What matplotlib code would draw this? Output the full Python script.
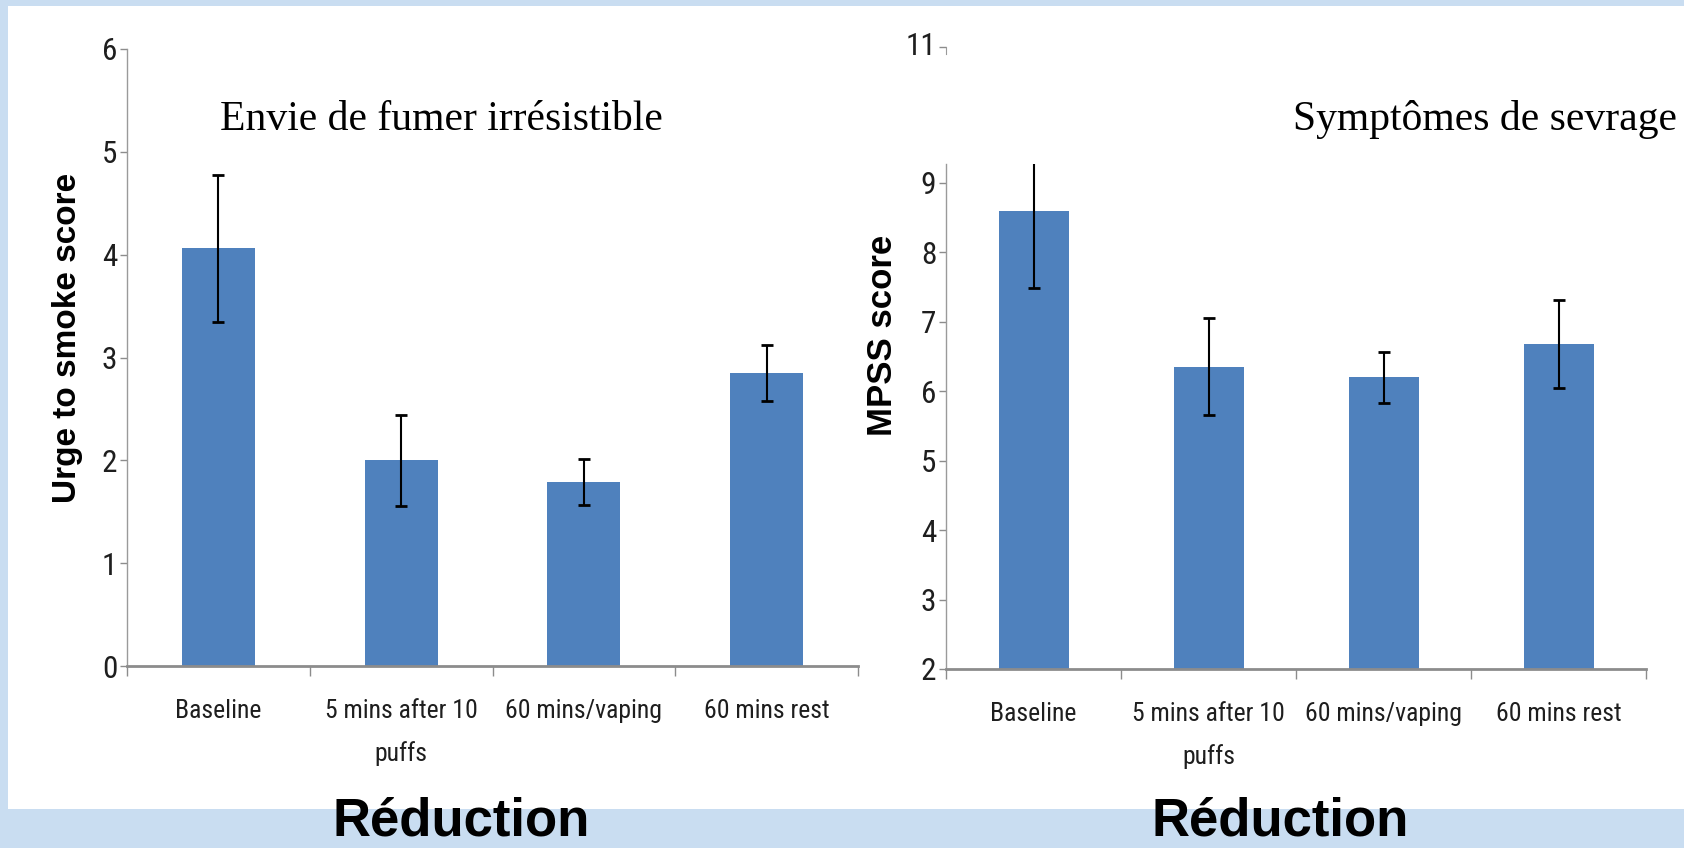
import matplotlib
matplotlib.use("Agg")
import matplotlib.pyplot as plt
from matplotlib import font_manager
from matplotlib.font_manager import FontProperties
from matplotlib.patches import Rectangle
import numpy as np

# ---- data ----
categories = ["Baseline", "5 mins after 10\npuffs", "60 mins/vaping", "60 mins rest"]
urge_mean = [4.06, 2.00, 1.79, 2.85]
urge_err = [0.71, 0.44, 0.22, 0.27]
mpss_mean = [8.60, 6.35, 6.20, 6.68]
mpss_err = [1.12, 0.70, 0.37, 0.63]
urge_ticks = [0, 1, 2, 3, 4, 5, 6]
mpss_ticks = [2, 3, 4, 5, 6, 7, 8, 9]
title_left = "Envie de fumer irrésistible"
title_right = "Symptômes de sevrage"
ylabel_left = "Urge to smoke score"
ylabel_right = "MPSS score"
bottom_label = "Réduction"

# pick a narrow / condensed sans font if one is installed
chosen = None
for want, sx, sy in [("Liberation Sans Narrow", 19, 22), ("Arial Narrow", 19, 22),
                     ("Roboto Condensed", 18.5, 22.5)]:
    for f in font_manager.fontManager.ttflist:
        if f.name == want and f.weight in (400, "normal", "regular") and f.style == "normal":
            chosen = (f.fname, sx, sy)
            break
    if chosen:
        break
if chosen is None:
    tick_fp_x = FontProperties(family="Liberation Sans", size=16.5)
    tick_fp_y = FontProperties(family="Liberation Sans", size=19)
else:
    tick_fp_x = FontProperties(fname=chosen[0], size=chosen[1])
    tick_fp_y = FontProperties(fname=chosen[0], size=chosen[2])

W, H = 1684, 848
fig = plt.figure(figsize=(W / 100, H / 100), dpi=100)
fig.patch.set_facecolor("#c9ddf1")
fig.patches.append(Rectangle((8 / W, 1 - 809 / H), 1 - 8 / W, (809 - 6) / H,
                             transform=fig.transFigure, facecolor="white",
                             edgecolor="none", zorder=-5))

bar_color = "#4f81bd"
axis_gray = "#8c8c8c"
text_col = "#1e1e1e"


def fx(px):
    return px / W


def fy(py):
    return 1 - py / H


def style(ax, ymin, ymax, yticks):
    x = np.arange(len(categories))
    ax.set_xlim(-0.5, len(categories) - 0.5)
    ax.set_ylim(ymin, ymax)
    ax.set_yticks(yticks)
    ax.set_xticks(x)
    ax.set_xticklabels(categories, linespacing=1.9, color=text_col)
    for lab in ax.get_xticklabels():
        lab.set_fontproperties(tick_fp_x)
    ax.set_xticks(np.arange(len(categories) + 1) - 0.5, minor=True)
    ax.tick_params(axis="x", which="major", length=0, pad=24)
    ax.tick_params(axis="x", which="minor", length=7.5, width=1, color=axis_gray, direction="out")
    ax.tick_params(axis="y", length=5, width=1, color=axis_gray, pad=2)
    for lab in ax.get_yticklabels():
        lab.set_fontproperties(tick_fp_y)
        lab.set_color(text_col)
    for s in ["top", "right"]:
        ax.spines[s].set_visible(False)
    ax.spines["left"].set_color("#9a9a9a")
    ax.spines["left"].set_linewidth(1)
    ax.spines["bottom"].set_color(axis_gray)
    ax.spines["bottom"].set_linewidth(2)
    ax.set_facecolor("none")


xl = np.arange(len(categories))

# left panel
axL = fig.add_axes([fx(127), fy(666), fx(858) - fx(127), fy(49) - fy(666)], zorder=2)
axL.bar(xl, urge_mean, width=0.4, color=bar_color, zorder=2)
axL.errorbar(xl, urge_mean, yerr=urge_err, fmt="none", ecolor="black",
             elinewidth=1.5, capsize=4.5, capthick=2, zorder=3)
style(axL, 0, 6, urge_ticks)

# right panel
axR = fig.add_axes([fx(946), fy(669), fx(1646) - fx(946), fy(164) - fy(669)], zorder=2)
axR.bar(xl, mpss_mean, width=0.4, color=bar_color, zorder=2)
axR.errorbar(xl, mpss_mean, yerr=mpss_err, fmt="none", ecolor="black",
             elinewidth=1.5, capsize=4.5, capthick=2, zorder=3)
style(axR, 2, 9.27, mpss_ticks)

# small top segment of the broken axis (11)
axT = fig.add_axes([fx(946), fy(54), 0.0005, fy(47) - fy(54)], zorder=2)
axT.set_ylim(10.9, 11.0)
axT.set_yticks([11])
axT.set_yticklabels(["11"])
axT.set_xticks([])
for s in ["top", "right", "bottom"]:
    axT.spines[s].set_visible(False)
axT.spines["left"].set_color("#9a9a9a")
axT.tick_params(axis="y", length=5, width=1, color=axis_gray, pad=2)
for lab in axT.get_yticklabels():
    lab.set_fontproperties(tick_fp_y)
    lab.set_color(text_col)
    lab.set_va("center")
axT.set_facecolor("none")

# titles
fig.text(fx(220), fy(130), title_left, family="Liberation Serif", fontsize=30,
         ha="left", va="baseline", color="black")
fig.text(fx(1293), fy(130), title_right, family="Liberation Serif", fontsize=30,
         ha="left", va="baseline", color="black")

# y labels
fig.text(fx(68), fy(338), ylabel_left, family="Liberation Sans", weight="bold",
         fontsize=24, rotation=90, ha="center", va="center", color="black")
fig.text(fx(883), fy(335), ylabel_right, family="Liberation Sans", weight="bold",
         fontsize=25, rotation=90, ha="center", va="center", color="black")

# bottom labels (kept fully inside the canvas)
fig.text(fx(461), fy(846), bottom_label, family="Liberation Sans", weight="bold",
         fontsize=38, ha="center", va="bottom", color="black")
fig.text(fx(1280), fy(847), bottom_label, family="Liberation Sans", weight="bold",
         fontsize=38, ha="center", va="bottom", color="black")

fig.savefig("out.png", dpi=100, facecolor=fig.get_facecolor())
